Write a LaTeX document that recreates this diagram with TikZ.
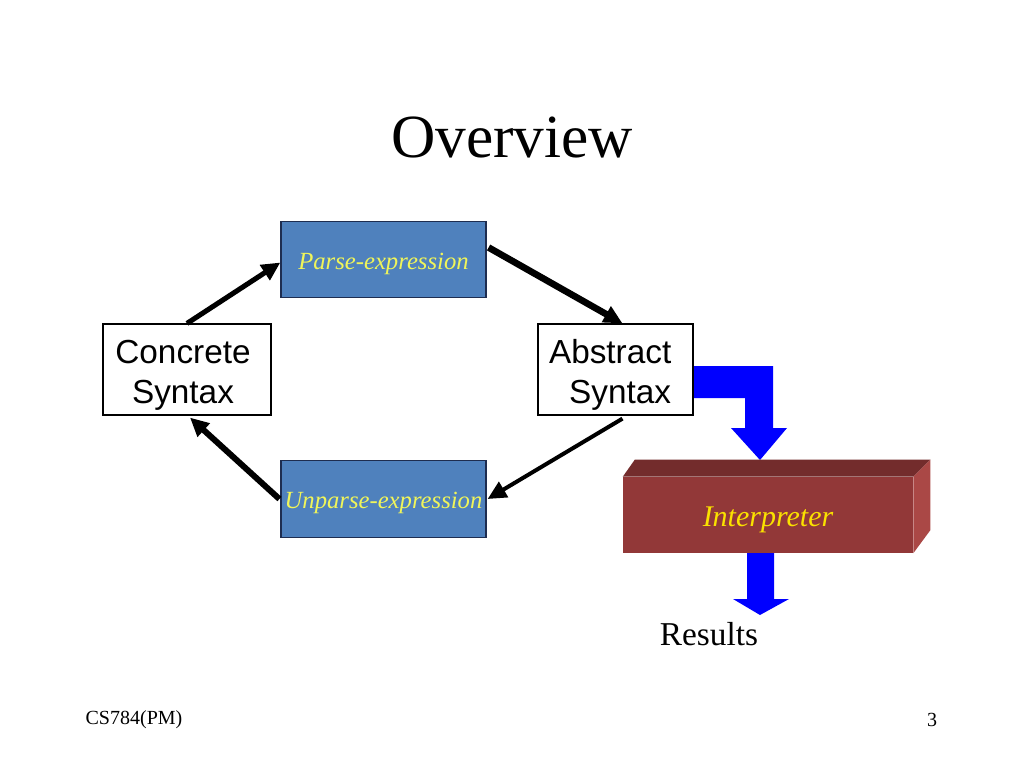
\documentclass[tikz,border=0pt]{standalone}
\usepackage{fontspec}
\setmainfont{Liberation Serif}
\setsansfont{Liberation Sans}
\usetikzlibrary{arrows.meta,calc}
\definecolor{boxblue}{RGB}{79,129,189}
\definecolor{boxedge}{RGB}{30,45,80}
\definecolor{lyellow}{RGB}{240,245,90}
\definecolor{gold}{RGB}{250,225,0}
\definecolor{ifront}{RGB}{146,56,56}
\definecolor{itop}{RGB}{115,44,44}
\definecolor{iside}{RGB}{170,72,70}
\definecolor{bigblue}{RGB}{0,0,255}
\tikzset{
  procbox/.style={draw=boxedge, line width=0.9pt, fill=boxblue, inner sep=0pt,
    minimum width=153.75pt, minimum height=57.5pt},
  proctext/.style={inner sep=0pt, font=\fontsize{18.5}{21}\selectfont\itshape, text=lyellow},
  synbox/.style={draw=black, line width=0.9pt, fill=white, inner sep=0pt,
    minimum height=68.25pt},
  syntext/.style={inner sep=0pt, align=center, font=\sffamily\fontsize{25}{30}\selectfont},
  conn/.style={draw=black, -{Triangle[length=14pt,width=13pt]}},
  txt/.style={inner sep=0pt, text=black}
}
\begin{document}
\begin{tikzpicture}[x=0.75pt,y=-0.75pt]
\useasboundingbox (0,0) rectangle (1024,768);
\fill[white] (0,0) rectangle (1024,768);

\node[txt, font=\fontsize{46}{50}\selectfont] (title) at (512,137) {Overview};

\node[procbox, label={[proctext, yshift=-3pt]center:Parse-expression}] (parse) at (383.5,259.5) {};
\node[procbox, label={[proctext, yshift=-3pt]center:Unparse-expression}] (unparse) at (383.5,499) {};
\node[synbox, minimum width=126pt, label={[syntext, xshift=-3pt, yshift=-4pt]center:Concrete\\Syntax}] (concrete) at (187,369.5) {};

% blue block arrow from Abstract Syntax to Interpreter
\fill[bigblue] (690,366) -- (773,366) -- (773,428) -- (787,428) -- (760,460)
  -- (731,428) -- (745,428) -- (745,398) -- (690,398) -- cycle;
\node[synbox, minimum width=116.25pt, label={[syntext, xshift=-4pt, yshift=-4pt]center:Abstract\\\hspace*{0.6em}Syntax}] (abstract) at (615.5,369.5) {};

% interpreter 3D block
\node[fill=ifront, minimum width=217.5pt, minimum height=57pt, inner sep=0pt,
  label={[inner sep=0pt, font=\fontsize{22.5}{26}\selectfont\itshape, text=gold, yshift=-4pt]center:Interpreter}] (interp) at (768,515) {};
\fill[itop] (interp.north west) -- ++(12,-17) -- ($(interp.north east)+(17,-17)$) -- (interp.north east) -- cycle;
\fill[iside] (interp.north east) -- ++(17,-17) -- ($(interp.south east)+(17,-23)$) -- (interp.south east) -- cycle;

% bottom blue arrow
\fill[bigblue] (747,553) -- (774,553) -- (774,599) -- (789,599) -- (760,615)
  -- (733,599) -- (747,599) -- cycle;

\node[txt, font=\fontsize{25}{30}\selectfont] (results) at (709,634) {Results};

% connectors
\draw[conn, line width=3.8pt] (concrete.north) -- ($(parse.west)+(0,3)$);
\draw[conn, line width=5pt] ($(parse.east)+(2,-12)$) -- ($(abstract.north)+(7,0)$);
\draw[conn, line width=3pt] ($(abstract.south)+(7,3)$) -- ($(unparse.east)+(1,0)$);
\draw[conn, line width=4.5pt] ($(unparse.west)+(-1,0)$) -- ($(concrete.south)+(3,2)$);

% footer
\node[txt, font=\fontsize{15}{18}\selectfont] (foot) at (134,720) {CS784(PM)};
\node[txt, font=\fontsize{15}{18}\selectfont] (page) at (932,720) {3};
\end{tikzpicture}
\end{document}
